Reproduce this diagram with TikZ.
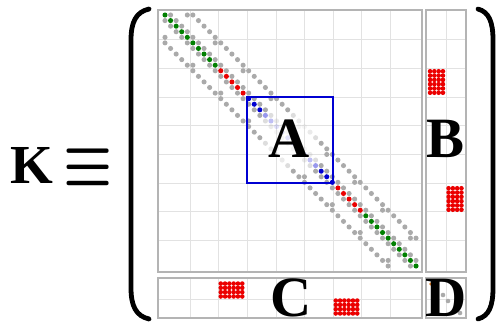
\RequirePackage{fix-cm}
\documentclass[tikz,border=0pt]{standalone}
\usepackage{fontspec}
\setmainfont{Liberation Serif}
\usepackage{graphicx}
\definecolor{dgreen}{RGB}{0,128,0}
\definecolor{dred}{RGB}{235,0,0}
\definecolor{dblue}{RGB}{0,0,210}
\definecolor{dgray}{RGB}{170,170,170}
\definecolor{gridc}{RGB}{226,226,226}
\definecolor{framec}{RGB}{180,180,180}
\definecolor{dorange}{RGB}{220,120,30}
\newcommand\matentry[3]{%
  \pgfmathtruncatemacro\eMin{min(#1,#2)}%
  \pgfmathtruncatemacro\eMax{max(#1,#2)}%
  \pgfmathtruncatemacro\eT{min(\eMin-15,30-\eMax)}%
  \pgfmathsetmacro\eOp{((\eMin>=15) && (\eMax<=30)) ? ((\eT<=2) ? 1 : ((\eT==3) ? 0.4 : ((\eT==4) ? 0.25 : 0.12))) : 1}%
  \fill[#3, fill opacity=\eOp] ({165+5.578*#2},{15+5.578*#1}) circle (2.55);%
}
\newcommand\redblock[4]{% cx cy ncols nrows
  \foreach \bc in {1,...,#3}{\foreach \br in {1,...,#4}{%
    \fill[dred] ({#1+4.3*(\bc-(#3+1)/2)},{#2+4.3*(\br-(#4+1)/2)}) circle (2.3);}}%
}
\tikzset{
  frame/.style={draw=framec, line width=1.1pt},
  gridl/.style={draw=gridc, line width=0.8pt},
  bigletter/.style={font=\fontsize{57}{62}\selectfont\bfseries, inner sep=0pt, anchor=base},
  paren/.style={line width=4.8pt, line cap=round}
}
\begin{document}
\begin{tikzpicture}[x=1pt,y=-1pt]
\useasboundingbox (0,0) rectangle (497,324);
% grids
\foreach \gx in {190,218.6,247.3,275.9,304.6,333.2,361.8,390.5}{
  \draw[gridl] (\gx,10) -- (\gx,272);
  \draw[gridl] (\gx,278) -- (\gx,318);
}
\foreach \gy in {39.6,68.3,97,125.7,154.4,183,211.7,240.4}{
  \draw[gridl] (158,\gy) -- (422,\gy);
  \draw[gridl] (426,\gy) -- (466,\gy);
}
\draw[gridl] (446,10) -- (446,272);
\draw[gridl] (158,299) -- (422,299);
\draw[gridl] (446,278) -- (446,318);
\draw[gridl] (426,299) -- (466,299);
% gray entries
\foreach \i in {0,...,44}{\pgfmathtruncatemacro\jj{\i+1}\matentry{\i}{\jj}{dgray}\matentry{\jj}{\i}{dgray}}
\foreach \i in {0,...,40}{\pgfmathtruncatemacro\jj{\i+5}\matentry{\i}{\jj}{dgray}\matentry{\jj}{\i}{dgray}}
\foreach \i in {0,5,...,40}{\pgfmathtruncatemacro\jj{\i+4}\matentry{\i}{\jj}{dgray}\matentry{\jj}{\i}{dgray}}
% diagonal
\foreach \i in {0,...,9}{\matentry{\i}{\i}{dgreen}}
\foreach \i in {10,...,14}{\matentry{\i}{\i}{dred}}
\foreach \i in {15,...,30}{\matentry{\i}{\i}{dblue}}
\foreach \i in {31,...,35}{\matentry{\i}{\i}{dred}}
\foreach \i in {36,...,45}{\matentry{\i}{\i}{dgreen}}
% coupling blocks
\redblock{436.5}{82}{4}{6}
\redblock{455}{199}{4}{6}
\redblock{231.5}{290}{6}{4}
\redblock{346.5}{307}{6}{4}
% D entries
\fill[dorange] (430.7,284) circle (1.6);
\fill[dgray] (443,295) circle (2.3);
\fill[dgray] (448,301) circle (2.3);
\fill[dgray] (460,313) circle (2.3);
% blue box
\node[draw=dblue, line width=1.1pt, minimum width=86pt, minimum height=86pt, inner sep=0pt] (boxA) at (290,140) {};
% frames
\draw[frame] (158,10) rectangle (422,272);
\draw[frame] (426,10) rectangle (466,272);
\draw[frame] (158,278) rectangle (422,318);
\draw[frame] (426,278) rectangle (466,318);
% letters
\node[bigletter] (lA) at (289,157) {A};
\node[bigletter] (lB) at (446,157) {B};
\node[bigletter] (lC) at (291,316) {C};
\node[bigletter] (lD) at (446,316) {D};
\node[bigletter, font=\fontsize{55}{60}\selectfont\bfseries] (lK) at (31.5,183) {K};
\node[inner sep=0pt, font=\fontsize{50}{56}\selectfont\boldmath] (leq) at (88.5,167.5) {\scalebox{1.1}[1.45]{$\equiv$}};
% parentheses
\draw[paren] (149,9) .. controls (136,12) and (131,22) .. (131,40) -- (131,288) .. controls (131,306) and (136,316) .. (149,319);
\draw[paren] (478,9) .. controls (489,12) and (493,22) .. (493,40) -- (493,288) .. controls (493,306) and (489,316) .. (478,319);
\end{tikzpicture}
\end{document}
